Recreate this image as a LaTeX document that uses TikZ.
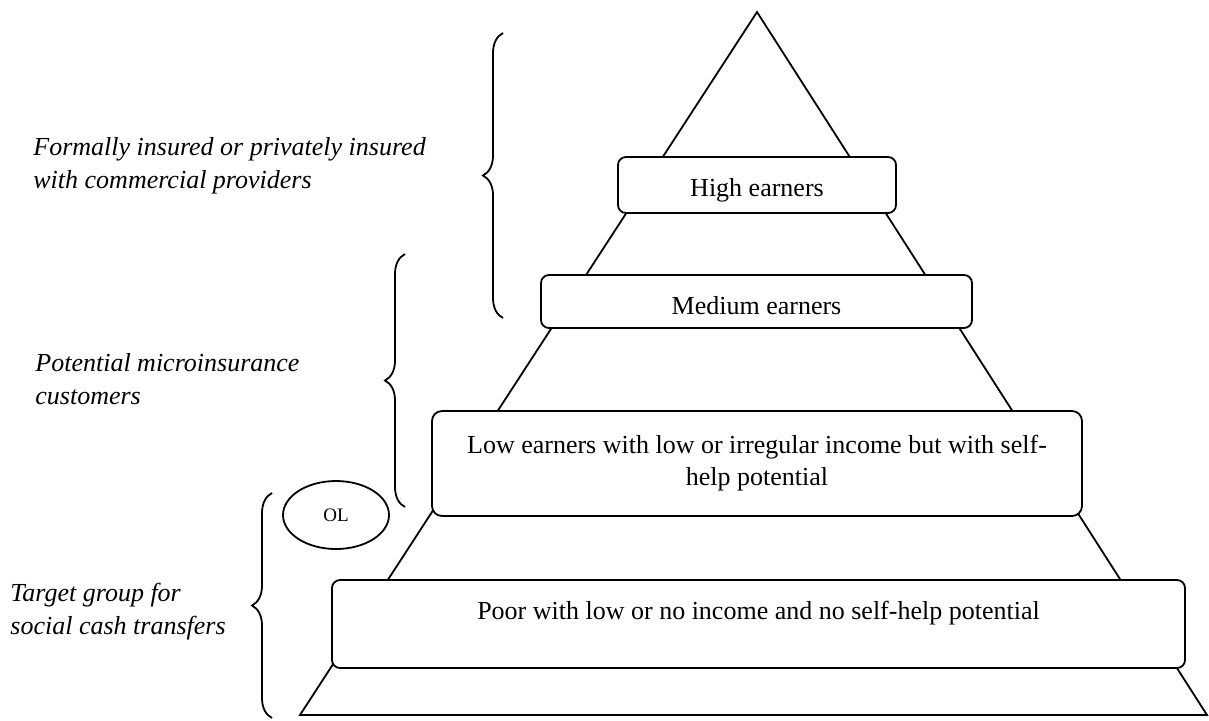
\documentclass[tikz,border=0pt]{standalone}
\usepackage{fontspec}
\setmainfont{Liberation Serif}
\usetikzlibrary{positioning,shapes.geometric,decorations.pathreplacing}
\tikzset{
  tier/.style={rounded corners=4pt, draw=black, fill=white, line width=0.9pt, align=center,
               inner sep=0pt, font=\fontsize{13}{16}\selectfont},
  toptier/.style={tier, text height=19.5pt},
  grouplbl/.style={align=left, anchor=west, inner sep=0pt, font=\fontsize{13}{16.5}\selectfont\itshape},
  grpbrace/.style={decorate, decoration={brace, amplitude=10pt}, line width=0.9pt},
  olmark/.style={ellipse, draw=black, line width=0.9pt, minimum width=53pt, minimum height=34pt,
                 inner sep=0pt, font=\fontsize{9.5}{11}\selectfont}
}
\begin{document}
\begin{tikzpicture}[x=0.5pt, y=-0.5pt]
\useasboundingbox (0,0) rectangle (1209,720);
% pyramid outline
\coordinate (apex) at (757,12);
\coordinate (baseL) at (300,715);
\coordinate (baseR) at (1207,715);
\draw[line width=0.9pt] (apex) -- (baseL) -- (baseR) -- cycle;
% tiers
\node[toptier, minimum width=139pt, text depth=8.5pt] (high) at (757,185) {High earners};
\node[toptier, minimum width=215.5pt, text depth=7pt] (medium) at (756.5,301.5) {Medium earners};
\node[tier, rounded corners=5pt, minimum width=325pt, minimum height=52.5pt] (low) at (757,463.5)
  {Low earners with low or irregular income but with self-\\help potential};
\node[toptier, minimum width=426.5pt, text depth=24.5pt] (poor) at (758.5,624)
  {Poor with low or no income and no self-help potential};
\node[olmark] (ol) at (336,515) {OL};
% groups
\draw[grpbrace] (503,318) -- (503,33);
\draw[grpbrace] (405,507) -- (405,254);
\draw[grpbrace] (272,718) -- (272,493);
\node[grouplbl] (formal) at (33,166) {Formally insured or privately insured\\with commercial providers};
\node[grouplbl] (micro) at (35,379) {Potential microinsurance\\customers};
\node[grouplbl] (target) at (10,612) {Target group for\\social cash transfers};
\end{tikzpicture}
\end{document}
